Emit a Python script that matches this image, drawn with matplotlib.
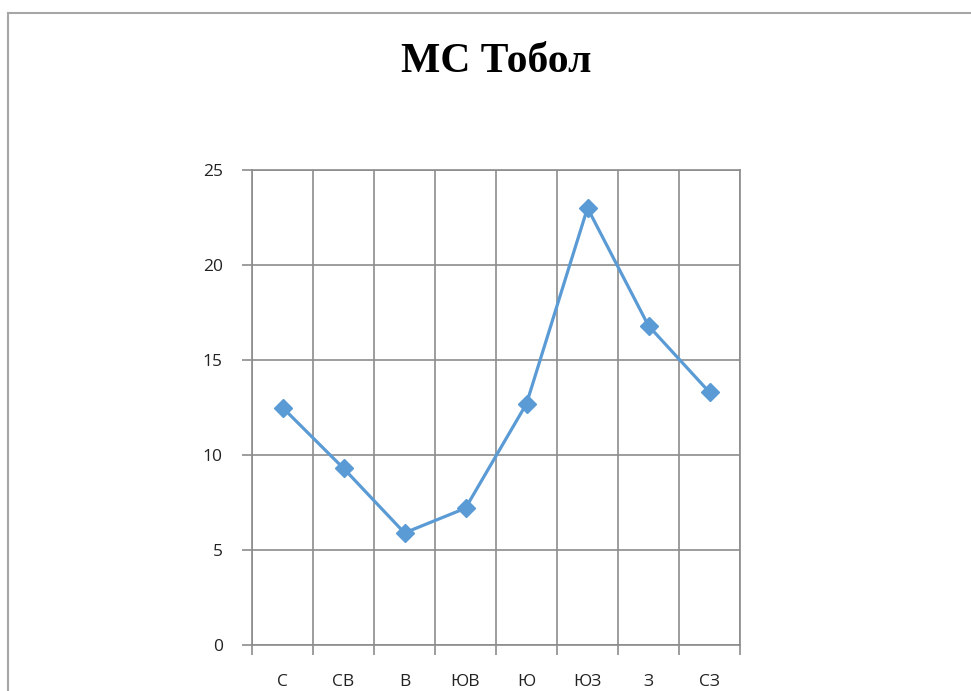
import matplotlib.pyplot as plt
from matplotlib.lines import Line2D

categories = ["С", "СВ", "В", "ЮВ", "Ю", "ЮЗ", "З", "СЗ"]
values = [12.5, 9.3, 5.9, 7.2, 12.7, 23.0, 16.8, 13.3]
y_ticks = [0, 5, 10, 15, 20, 25]
title = "МС Тобол"

W, H = 971, 691
fig = plt.figure(figsize=(W / 100, H / 100), dpi=100)

# outer chart frame (cropped on the right and bottom)
grey = "#a6a6a6"
fig.add_artist(Line2D([8 / W, 8 / W], [0, 1 - 13 / H], color=grey, lw=1.5,
                      transform=fig.transFigure))
fig.add_artist(Line2D([8 / W, 1], [1 - 13 / H, 1 - 13 / H], color=grey, lw=1.5,
                      transform=fig.transFigure))

left, right, top, bottom = 252, 740, 170, 645
ax = fig.add_axes([left / W, 1 - bottom / H, (right - left) / W, (bottom - top) / H])

x = list(range(len(categories)))
ax.plot(x, values, color="#5b9bd5", lw=2.3, marker="D", markersize=9,
        solid_capstyle="round", zorder=3)

ax.set_xlim(-0.5, len(categories) - 0.5)
ax.set_ylim(0, 25)
ax.set_yticks(y_ticks)
ax.set_xticks([i - 0.5 for i in range(len(categories) + 1)], minor=False)
ax.set_xticklabels([])
ax.set_xticks(x, minor=True)
ax.set_xticklabels(categories, minor=True)

gc = "#8c8c8c"
ax.grid(True, which="major", color=gc, lw=1.2)
ax.set_axisbelow(True)
for s in ax.spines.values():
    s.set_color(gc)
    s.set_linewidth(1.2)

ax.tick_params(axis="x", which="major", length=7, color=gc, width=1.2)
ax.tick_params(axis="x", which="minor", length=0, pad=21, labelsize=12.5,
               labelcolor="#222222")
ax.tick_params(axis="y", length=7, color=gc, width=1.2, labelsize=12.5,
               labelcolor="#222222", pad=14)
for lab in ax.get_xticklabels(minor=True) + ax.get_yticklabels():
    lab.set_fontfamily("Open Sans")

fig.text(496 / W, 1 - 62 / H, title, ha="center", va="center",
         fontsize=30, fontweight="bold", family="Liberation Serif")

fig.savefig("out.png", dpi=100)
